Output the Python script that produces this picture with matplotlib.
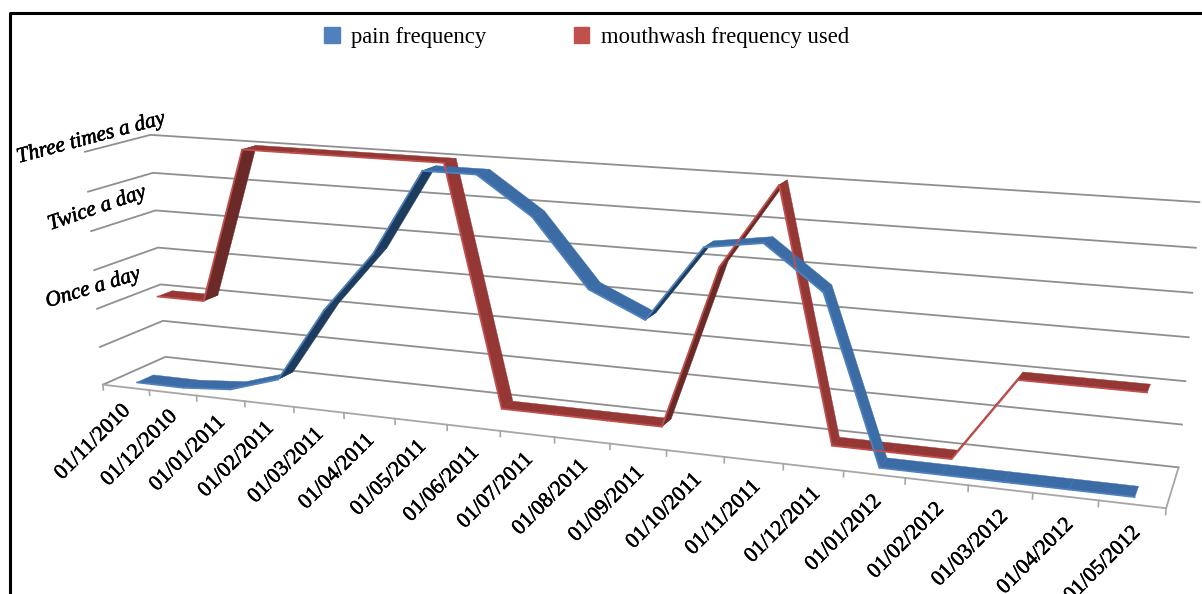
import matplotlib
matplotlib.use('Agg')
import matplotlib.pyplot as plt
import matplotlib.patheffects as pe
from matplotlib.patches import Patch
import numpy as np

plt.rcParams['font.family'] = ['Liberation Serif', 'DejaVu Serif']

months = ['01/11/2010', '01/12/2010', '01/01/2011', '01/02/2011', '01/03/2011',
          '01/04/2011', '01/05/2011', '01/06/2011', '01/07/2011', '01/08/2011',
          '01/09/2011', '01/10/2011', '01/11/2011', '01/12/2011', '01/01/2012',
          '01/02/2012', '01/03/2012', '01/04/2012', '01/05/2012']
pain = [0, 0, 0.05, 0.25, 1.2, 1.95, 3, 3, 2.55, 1.75, 1.45, 2.35, 2.45, 1.95, 0, 0, 0, 0, 0]
mouthwash = [1, 1, 3, 3, 3, 3, 3, 0, 0, 0, 0, 2, 3, 0, 0, 0, 1, 1, 1]
levels = [0, 0.5, 1, 1.5, 2, 2.5, 3]
level_names = {1: 'Once a day', 2: 'Twice a day', 3: 'Three times a day'}
# the walls' labels do not sit evenly in the original: (dx, dy, rotation)
name_style = {1: (-4, -20, 17), 2: (6, -22, 19), 3: (6, -13, 15)}

# camera calibration: where the box of the 3-D chart sits in the picture
# (category edge, level, depth 0=front 1=back) -> pixel
calib = []
back_left = [(165, 357), (163, 321), (161, 284), (158, 247), (155, 210), (153, 173), (151, 135)]
back_right = [(1178, 467), (1182, 425), (1186, 381), (1189, 338), (1192, 293), (1196, 248), (1199, 202)]
front_left = [(103, 385), (100, 347), (97, 308), (94, 270), (91, 232), (88, 191), (85, 152)]
for lv, a, b, c in zip(levels, back_left, back_right, front_left):
    calib.append((0, lv, 1, *a))
    calib.append((19, lv, 1, *b))
    calib.append((0, lv, 0, *c))
front_ticks = {1: 150, 2: 197, 3: 244, 4: 294, 5: 344, 6: 395, 7: 447, 8: 500,
               14: 843, 15: 906, 16: 968, 17: 1032, 18: 1099, 19: 1167}
for i, px in front_ticks.items():
    calib.append((i, 0, 0, px, 385 + (px - 103) * 0.1156))

rows = []
for x, v, z, u, w in calib:
    p = [x, v, z, 1]
    rows.append(p + [0, 0, 0, 0] + [-u * c for c in p])
    rows.append([0, 0, 0, 0] + p + [-w * c for c in p])
P = np.linalg.svd(np.array(rows, dtype=float))[2][-1].reshape(3, 4)


def project(x, v, z):
    x, v, z = np.broadcast_arrays(np.asarray(x, float), np.asarray(v, float), np.asarray(z, float))
    h = P @ np.stack([x, v, z, np.ones_like(x)])
    return h[0] / h[2], h[1] / h[2]


def ribbon(ax, values, z0, z1, top, under, edge):
    xs = np.arange(len(values)) + 0.5
    for i in range(len(values) - 1):
        seg_x = xs[i:i + 2]
        seg_v = values[i:i + 2]
        fx, fy = project(seg_x, seg_v, z0)
        bx, by = project(seg_x, seg_v, z1)
        qx = [fx[0], fx[1], bx[1], bx[0]]
        qy = [fy[0], fy[1], by[1], by[0]]
        area = sum(qx[k] * qy[(k + 1) % 4] - qx[(k + 1) % 4] * qy[k] for k in range(4))
        # y runs downwards, so a negative area means we look at the underside
        color = top if area < 0 else under
        ax.fill(qx, qy, color=color, lw=0.3, zorder=3)
        ax.plot(fx, fy, color=edge, lw=1.3, solid_capstyle='round', zorder=3.1)


fig = plt.figure(figsize=(12.02, 5.94), dpi=100)
ax = fig.add_axes([0, 0, 1, 1])
ax.set_xlim(0, 1202)
ax.set_ylim(594, 0)
ax.axis('off')

# frame
ax.plot([10, 10, 1202], [594, 13, 13], color='black', lw=2.2, zorder=5)

# gridlines on the back and side walls
for lv in levels:
    x, y = project([19, 0, 0], lv, [1, 1, 0])
    ax.plot(x, y, color='#8f8f8f', lw=1.3, zorder=1)
# floor, ticks
x, y = project([0, 19, 19], 0, [0, 0, 1])
ax.plot(x, y, color='#a6a6a6', lw=1.3, zorder=1)
for i in range(len(months) + 1):
    x, y = project(i, [0, -0.07], 0)
    ax.plot(x, y, color='#a6a6a6', lw=1.2, zorder=1)

ribbon(ax, mouthwash, 0.58, 0.82, '#953735', '#6b2927', '#c0504d')
ribbon(ax, pain, 0.17, 0.43, '#3c6ca6', '#1d3c5e', '#4f81bd')

heavier = [pe.withStroke(linewidth=0.4, foreground='black')]
for i, m in enumerate(months):
    x, y = project(i + 0.5 + 0.006 * i, -0.28, 0)
    ax.text(float(x), float(y), m, rotation=45, ha='right', va='center', rotation_mode='anchor',
            fontsize=15.5, color='black', path_effects=heavier, clip_on=True)

for lv, name in level_names.items():
    x, y = project(0, lv, 0)
    dx, dy, rot = name_style[lv]
    ax.text(float(x) + dx, float(y) + dy, name, rotation=rot, ha='center', va='center',
            fontsize=15.5, style='italic', color='black', path_effects=heavier)

handles = [Patch(color='#4f81bd', label='pain frequency'),
           Patch(color='#c0504d', label='mouthwash frequency used')]
ax.legend(handles=handles, ncol=2, loc='center', bbox_to_anchor=(586.5 / 1202, 1 - 37 / 594),
          frameon=False, fontsize=16.3, handlelength=0.7, handleheight=0.7,
          handletextpad=0.5, columnspacing=3.85)

fig.savefig('out.png', dpi=100)
